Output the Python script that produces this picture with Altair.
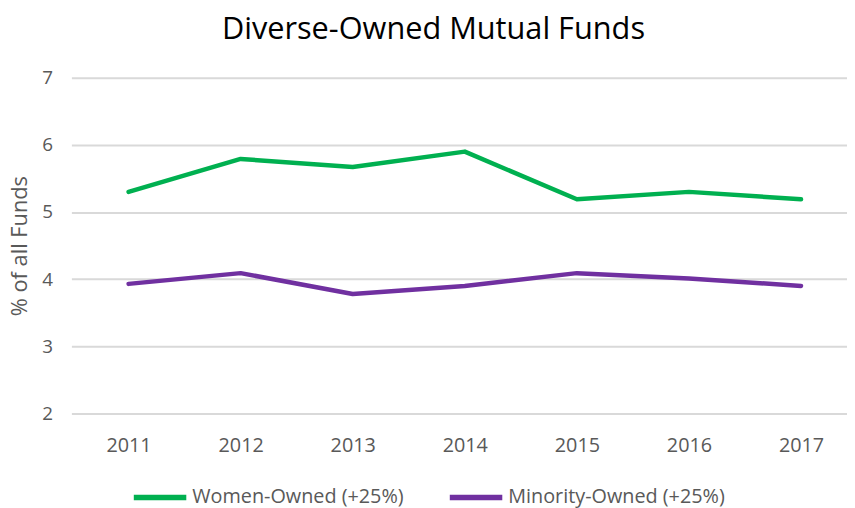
import altair as alt
import pandas as pd

years = [2011, 2012, 2013, 2014, 2015, 2016, 2017]
women = [5.30, 5.79, 5.67, 5.90, 5.19, 5.30, 5.19]
minority = [3.93, 4.09, 3.78, 3.90, 4.09, 4.01, 3.90]
series_names = ["Women-Owned (+25%)", "Minority-Owned (+25%)"]
colors = ["#00b050", "#7030a0"]

rows = []
for y, w, m in zip(years, women, minority):
    rows.append({"year": y, "value": w, "series": series_names[0]})
    rows.append({"year": y, "value": m, "series": series_names[1]})
df = pd.DataFrame(rows)

FONT = "Open Sans"

chart = alt.Chart(df).mark_line(strokeWidth=4.5, strokeCap="round", strokeJoin="round").encode(
    x=alt.X("year:Q", scale=alt.Scale(domain=[2010.49, 2017.41], nice=False, zero=False),
            axis=alt.Axis(title=None, values=years, format="d", labelAngle=0, ticks=False,
                          domain=False, grid=False, labelFontSize=20, labelColor="#595959",
                          labelPadding=22, labelFont=FONT, labelFlush=False)),
    y=alt.Y("value:Q", scale=alt.Scale(domain=[2, 7], nice=False, zero=False),
            axis=alt.Axis(title="% of all Funds", values=[2, 3, 4, 5, 6, 7], ticks=False, domain=False,
                          gridColor="#d9d9d9", gridWidth=2, labelFontSize=19, labelColor="#595959",
                          labelPadding=19, labelFont=FONT, titleFont=FONT, titleFontSize=22,
                          titleFontWeight="normal", titleColor="#595959", titlePadding=10)),
    color=alt.Color("series:N", scale=alt.Scale(domain=series_names, range=colors),
                    sort=series_names,
                    legend=alt.Legend(title=None, orient="none", legendX=60, legendY=394,
                                      direction="horizontal", symbolType="stroke",
                                      symbolSize=2809, symbolStrokeWidth=5.5,
                                      labelFontSize=20, labelColor="#595959", labelFont=FONT,
                                      labelLimit=0, labelOffset=3, columnPadding=35, symbolOffset=0)),
).properties(
    width=783, height=339,
    padding={"left": 64, "top": 68, "right": 0, "bottom": 93},
    autosize=alt.AutoSizeParams(type="none"),
    background="white",
    title=alt.TitleParams("Diverse-Owned Mutual Funds", font=FONT, fontSize=31, fontWeight="normal",
                          color="#000000", anchor="middle", dx=-26, offset=23),
).configure_view(stroke=None)

chart.save("out.html", embed_options={"renderer": "svg", "actions": False})
